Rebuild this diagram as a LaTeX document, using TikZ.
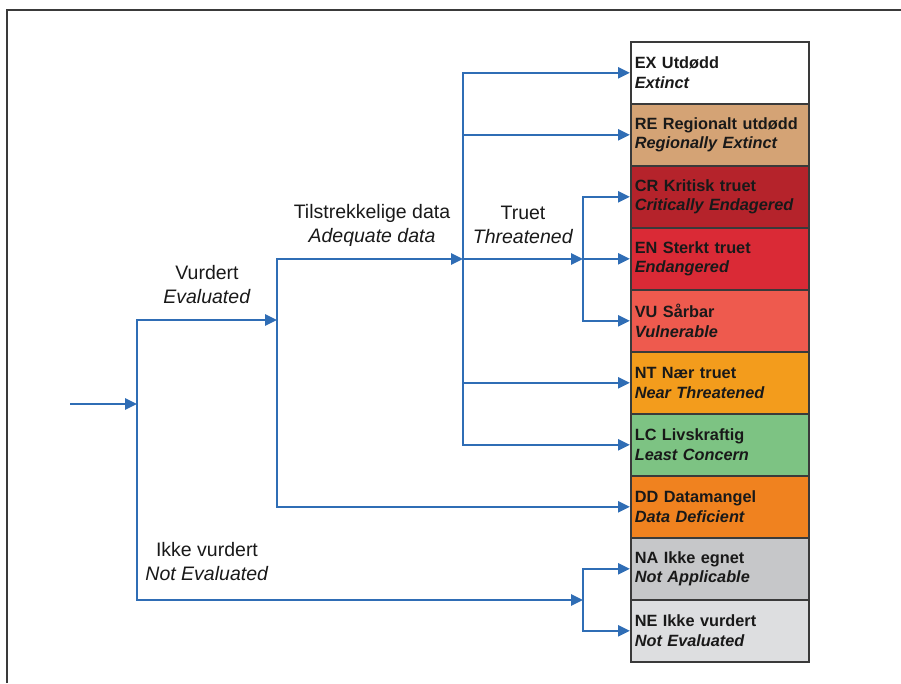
\documentclass[tikz,border=0pt]{standalone}
\usepackage{fontspec}
\setmainfont{Liberation Sans}
\usetikzlibrary{arrows.meta}

\definecolor{flowblue}{HTML}{2F6DB5}
\definecolor{framegray}{HTML}{3A3A3A}
\definecolor{colEX}{HTML}{FFFFFF}
\definecolor{colRE}{HTML}{D4A375}
\definecolor{colCR}{HTML}{B5232B}
\definecolor{colEN}{HTML}{DA2A36}
\definecolor{colVU}{HTML}{EE5A4E}
\definecolor{colNT}{HTML}{F39C1C}
\definecolor{colLC}{HTML}{7DC383}
\definecolor{colDD}{HTML}{F0821F}
\definecolor{colNA}{HTML}{C6C7C9}
\definecolor{colNE}{HTML}{DDDEE0}

\tikzset{
	flow/.style={draw=flowblue, line width=2.6pt, -{Triangle[length=12pt,width=11pt]}},
	catbox/.style={draw=framegray, line width=1.6pt, anchor=north west,
		minimum width=178pt, minimum height=62pt, inner xsep=4pt,
		text width=170pt, align=left, text=black!90,
		font=\fontsize{16.3}{19.5}\selectfont\bfseries},
	lbl/.style={align=center, font=\fontsize{19.5}{24}\selectfont, text=black!90}
}

\begin{document}
\begin{tikzpicture}[x=1pt,y=-1pt]
		\useasboundingbox (0,0) rectangle (901,683);
		\draw[framegray, line width=1.4pt] (7,683) -- (7,10) -- (901,10);

		% category boxes
		\def\rowh{62}
		\foreach \name/\code/\no/\en [count=\i] in
			{ex/EX/Utdødd/Extinct,
			 re/RE/Regionalt utdødd/Regionally Extinct,
			 cr/CR/Kritisk truet/Critically Endagered,
			 en/EN/Sterkt truet/Endangered,
			 vu/VU/Sårbar/Vulnerable,
			 nt/NT/Nær truet/Near Threatened,
			 lc/LC/Livskraftig/Least Concern,
			 dd/DD/Datamangel/Data Deficient,
			 na/NA/Ikke egnet/Not Applicable,
			 ne/NE/Ikke vurdert/Not Evaluated}
		{
			\node[catbox, fill=col\code] (\name) at (630, {41+\rowh*(\i-1)})
				{\code\ \no\\\textit{\en}};
		}

		% junctions
		\coordinate (start) at (70,404);
		\coordinate (root) at (137,404);
		\coordinate (evj) at (277,320);
		\coordinate (adj) at (463,259);
		\coordinate (thj) at (583,259);
		\coordinate (nej) at (583,600);

		% labels
		\node[lbl] (evlbl) at (207,285) {Vurdert\\\textit{Evaluated}};
		\node[lbl] (adlbl) at (372,225) {Tilstrekkelige data\\\textit{Adequate data}};
		\node[lbl] (thlbl) at (523,225) {Truet\\\textit{Threatened}};
		\node[lbl] (nelbl) at (207,562) {Ikke vurdert\\\textit{Not Evaluated}};

		% connectors
		\draw[flow] (start) -- (root);
		\draw[flow] (root) |- (evj);
		\draw[flow] (root) |- (nej);
		\draw[flow] (evj) |- (adj);
		\draw[flow] (evj) |- (dd.west);
		\foreach \t in {ex,re,nt,lc}
		{
			\draw[flow] (adj) |- (\t.west);
		}
		\draw[flow] (adj) -- (thj);
		\foreach \t in {cr,en,vu}
		{
			\draw[flow] (thj) |- (\t.west);
		}
		\foreach \t in {na,ne}
		{
			\draw[flow] (nej) |- (\t.west);
		}
	\end{tikzpicture}
\end{document}
